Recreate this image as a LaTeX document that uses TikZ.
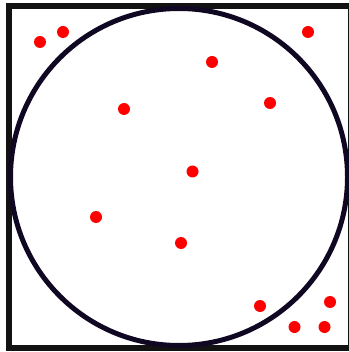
\documentclass[tikz,border=0pt]{standalone}
\usepackage{tikz}
\definecolor{ringnavy}{RGB}{16,8,34}
\definecolor{dotred}{RGB}{255,0,0}
\tikzset{
  frame/.style={draw=black!93,line width=6pt,minimum size=342pt,inner sep=0pt},
  ring/.style={draw=ringnavy,line width=5pt,circle,minimum size=337pt,inner sep=0pt},
  sample/.style={circle,fill=dotred,minimum size=12pt,inner sep=0pt}
}
\begin{document}
\begin{tikzpicture}[x=1pt,y=-1pt]
    \useasboundingbox (0,0) rectangle (348,352);

    \node[frame] (box) at (180,177) {};
    \node[ring] (disc) at (179,177) {};

    % points inside and outside the disc
    \node[sample] (1) at (40,42) {};
    \node[sample] (2) at (63,32) {};
    \node[sample] (3) at (308,32) {};
    \node[sample] (4) at (212,62) {};
    \node[sample] (5) at (124,109) {};
    \node[sample] (6) at (270,103) {};
    \node[sample] (7) at (192.5,171.5) {};
    \node[sample] (8) at (96,217) {};
    \node[sample] (9) at (181,243) {};
    \node[sample] (10) at (260,306) {};
    \node[sample] (11) at (330,302) {};
    \node[sample] (12) at (294.5,327) {};
    \node[sample] (13) at (324.5,327) {};
\end{tikzpicture}
\end{document}
